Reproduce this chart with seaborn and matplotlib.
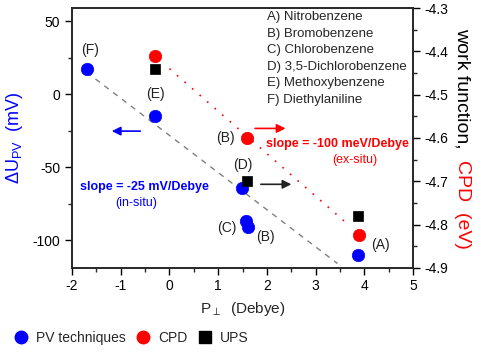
import matplotlib
matplotlib.use("Agg")
import matplotlib.pyplot as plt
from matplotlib.lines import Line2D
from matplotlib.ticker import MultipleLocator
import pandas as pd
import seaborn as sns

# PV techniques (left axis, mV)
pv_x = [-1.7, -0.3, 1.49, 1.58, 1.62, 3.88]
pv_y = [17, -15, -64, -87, -91, -110]

# CPD (right axis, eV)
cpd_x = [-0.3, 1.6, 3.9]
cpd_y = [-4.41, -4.60, -4.825]

# UPS (right axis, eV)
ups_x = [-0.3, 1.6, 3.88]
ups_y = [-4.44, -4.70, -4.78]

# fit lines
insitu_x = [-1.7, 3.45]
insitu_y = [15, -116]
exsitu_x = [0.0, 3.67]
exsitu_y = [-4.44, -4.80]

molecules = [
    "A) Nitrobenzene",
    "B) Bromobenzene",
    "C) Chlorobenzene",
    "D) 3,5-Dichlorobenzene",
    "E) Methoxybenzene",
    "F) Diethylaniline",
]

point_labels = ["(F)", "(E)", "(B)", "(D)", "(C)", "(B)", "(A)"]
label_x = [-1.63, -0.28, 1.14, 1.51, 1.18, 1.98, 4.33]
label_y = [30, 0, -30, -48.5, -92, -98, -103]

sns.set_theme(style="ticks")
plt.rcParams["font.family"] = ["Liberation Sans", "DejaVu Sans"]
plt.rcParams["mathtext.fontset"] = "custom"
plt.rcParams["mathtext.rm"] = "Liberation Sans"
plt.rcParams["mathtext.it"] = "Liberation Sans:italic"
plt.rcParams["axes.unicode_minus"] = False

blue = "#0000FF"
red = "#FF0000"

fig = plt.figure(figsize=(5, 3.64), dpi=100)
ax = fig.add_axes([0.144, 0.264, 0.682, 0.714])
ax2 = ax.twinx()

pv_df = pd.DataFrame({"x": pv_x, "y": pv_y})
cpd_df = pd.DataFrame({"x": cpd_x, "y": cpd_y})
ups_df = pd.DataFrame({"x": ups_x, "y": ups_y})

sns.lineplot(x=insitu_x, y=insitu_y, ax=ax, color="gray",
             linestyle=(0, (4, 4)), linewidth=1)
sns.lineplot(x=exsitu_x, y=exsitu_y, ax=ax2, color=red,
             linestyle=(0, (1, 5)), linewidth=1.2)

sns.scatterplot(data=pv_df, x="x", y="y", ax=ax, color=blue, s=80,
                edgecolor=blue, linewidth=0.5, legend=False, zorder=3)
sns.scatterplot(data=cpd_df, x="x", y="y", ax=ax2, color=red, s=80,
                edgecolor=red, linewidth=0.5, legend=False, zorder=3)
sns.scatterplot(data=ups_df, x="x", y="y", ax=ax2, color="black", marker="s",
                s=60, edgecolor="black", linewidth=0.5, legend=False, zorder=3)

ax.set_xlim(-2, 5)
ax.set_ylim(-119, 59)
ax2.set_ylim(-4.9, -4.3)

ax.xaxis.set_major_locator(MultipleLocator(1))
ax.xaxis.set_minor_locator(MultipleLocator(0.5))
ax.yaxis.set_major_locator(MultipleLocator(50))
ax.yaxis.set_minor_locator(MultipleLocator(25))
ax2.yaxis.set_major_locator(MultipleLocator(0.1))
ax2.yaxis.set_minor_locator(MultipleLocator(0.05))

for a in (ax, ax2):
    a.tick_params(which="major", direction="out", length=5, width=1,
                  labelsize=10, colors="black")
    a.tick_params(which="minor", direction="out", length=3, width=1)
    for sp in a.spines.values():
        sp.set_linewidth(1.2)
        sp.set_visible(True)
ax.tick_params(axis="x", pad=3)

ax.set_xlabel(r"P$_{\perp}$  (Debye)", fontsize=11)
ax.xaxis.set_label_coords(0.5, -0.125)
ax.set_ylabel(r"$\Delta$U$_{\mathrm{PV}}$  (mV)", fontsize=13, color=blue)
ax.yaxis.set_label_coords(-0.137, 0.5)
ax2.set_ylabel("")

fig.text(0.924, 0.923, "work function,", rotation=270, ha="center", va="top",
         fontsize=14, color="black")
fig.text(0.924, 0.56, "CPD  (eV)", rotation=270, ha="center", va="top",
         fontsize=14, color=red)

for t, x, y in zip(point_labels, label_x, label_y):
    ax.text(x, y, t, fontsize=10, ha="center", va="center", color="#222222")

for i, m in enumerate(molecules):
    ax.text(0.572, 0.965 - i * 0.0635, m, transform=ax.transAxes,
            fontsize=9.5, ha="left", va="center")

ax.text(-0.52, -63.7, "slope = -25 mV/Debye", color=blue, fontsize=9,
        fontweight="bold", ha="center", va="center")
ax.text(-0.69, -74.7, "(in-situ)", color=blue, fontsize=9, ha="center", va="center")
ax2.text(3.44, -4.613, "slope = -100 meV/Debye", color=red, fontsize=9,
         fontweight="bold", ha="center", va="center")
ax2.text(3.81, -4.652, "(ex-situ)", color=red, fontsize=9, ha="center", va="center")

arrow_kw = dict(arrowstyle="-|>", lw=1.2, mutation_scale=13)
ax.annotate("", xy=(-1.24, -25.3), xytext=(-0.54, -25.3),
            arrowprops=dict(color=blue, **arrow_kw))
ax2.annotate("", xy=(2.44, -4.578), xytext=(1.70, -4.578),
             arrowprops=dict(color=red, **arrow_kw))
ax2.annotate("", xy=(2.56, -4.707), xytext=(1.82, -4.707),
             arrowprops=dict(color="#222222", **arrow_kw))

handles = [
    Line2D([], [], marker="o", linestyle="", color=blue, markersize=9),
    Line2D([], [], marker="o", linestyle="", color=red, markersize=9),
    Line2D([], [], marker="s", linestyle="", color="black", markersize=8),
]
fig.legend(handles, ["PV techniques", "CPD", "UPS"], loc="center left",
           bbox_to_anchor=(0.003, 0.071), ncol=3, frameon=False, fontsize=10,
           handletextpad=0.55, columnspacing=0.8, handlelength=1.0)

plt.savefig("out.png", dpi=100)
